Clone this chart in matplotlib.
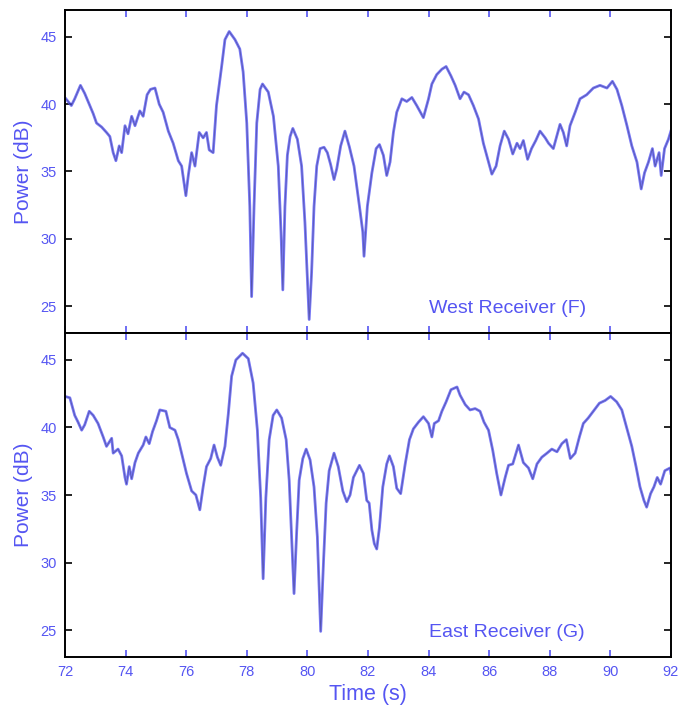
import matplotlib.pyplot as plt

plt.rcParams['font.family'] = ['Liberation Sans', 'DejaVu Sans']

# West receiver (F)
west_t = [72.03, 72.21, 72.32, 72.51, 72.65, 72.82, 72.93, 73.04, 73.21, 73.37,
          73.48, 73.59, 73.68, 73.79, 73.87, 73.98, 74.08, 74.2, 74.31, 74.47,
          74.58, 74.71, 74.82, 74.97, 75.11, 75.24, 75.41, 75.57, 75.74, 75.85,
          75.99, 76.07, 76.18, 76.29, 76.43, 76.56, 76.67, 76.76, 76.89, 77.0,
          77.17, 77.28, 77.42, 77.61, 77.77, 77.88, 78.0, 78.1, 78.16, 78.24,
          78.33, 78.44, 78.52, 78.71, 78.88, 79.04, 79.13, 79.19, 79.26, 79.34,
          79.43, 79.52, 79.67, 79.81, 79.92, 80.06, 80.14, 80.22, 80.31, 80.42,
          80.55, 80.66, 80.77, 80.88, 80.97, 81.1, 81.24, 81.39, 81.54, 81.72,
          81.83, 81.87, 81.98, 82.13, 82.27, 82.38, 82.51, 82.62, 82.73, 82.84,
          82.95, 83.12, 83.28, 83.45, 83.61, 83.83, 84.0, 84.11, 84.27, 84.44,
          84.58, 84.74, 84.88, 85.04, 85.17, 85.32, 85.48, 85.65, 85.81, 85.98,
          86.09, 86.23, 86.36, 86.5, 86.64, 86.78, 86.92, 87.02, 87.13, 87.27,
          87.4, 87.54, 87.68, 87.85, 87.96, 88.12, 88.23, 88.34, 88.45, 88.56,
          88.67, 88.84, 89.0, 89.22, 89.44, 89.66, 89.89, 90.07, 90.22, 90.38,
          90.55, 90.71, 90.88, 91.02, 91.13, 91.26, 91.39, 91.48, 91.61, 91.68,
          91.79, 91.92, 92.0]
west_db = [40.4, 39.9, 40.4, 41.4, 40.8, 39.9, 39.3, 38.6, 38.3, 37.9,
           37.6, 36.4, 35.8, 36.9, 36.4, 38.4, 37.8, 39.1, 38.4, 39.5,
           39.1, 40.7, 41.1, 41.2, 40.0, 39.4, 38.0, 37.1, 35.8, 35.4,
           33.2, 34.7, 36.4, 35.4, 37.9, 37.5, 37.9, 36.6, 36.4, 39.9,
           42.8, 44.8, 45.4, 44.8, 44.1, 42.4, 38.6, 32.4, 25.7, 32.4,
           38.6, 41.1, 41.5, 40.9, 39.1, 35.4, 30.5, 26.2, 32.4, 36.2,
           37.6, 38.2, 37.4, 35.4, 31.2, 24.0, 27.5, 32.4, 35.4, 36.7,
           36.8, 36.4, 35.5, 34.4, 35.2, 36.9, 38.0, 36.8, 35.4, 32.4,
           30.5, 28.7, 32.4, 34.9, 36.7, 37.0, 36.2, 34.7, 35.7, 37.9,
           39.4, 40.4, 40.2, 40.5, 39.9, 39.0, 40.4, 41.5, 42.2, 42.6,
           42.8, 42.1, 41.4, 40.4, 40.9, 40.7, 39.9, 38.9, 37.1, 35.7,
           34.8, 35.4, 36.9, 38.0, 37.4, 36.3, 37.1, 36.7, 37.3, 35.9,
           36.7, 37.3, 38.0, 37.5, 37.1, 36.7, 37.6, 38.5, 37.9, 36.9,
           38.4, 39.4, 40.4, 40.7, 41.2, 41.4, 41.2, 41.7, 41.1, 39.9,
           38.4, 36.9, 35.7, 33.7, 34.9, 35.7, 36.7, 35.4, 36.4, 34.7,
           36.7, 37.4, 38.0]

# East receiver (G)
east_t = [72.0, 72.16, 72.32, 72.43, 72.55, 72.65, 72.8, 72.93, 73.09, 73.26,
          73.37, 73.54, 73.59, 73.75, 73.87, 73.98, 74.03, 74.12, 74.2, 74.31,
          74.42, 74.58, 74.67, 74.78, 74.89, 75.02, 75.13, 75.33, 75.46, 75.63,
          75.74, 75.9, 76.01, 76.18, 76.32, 76.45, 76.56, 76.67, 76.81, 76.92,
          77.03, 77.14, 77.28, 77.39, 77.5, 77.64, 77.86, 78.05, 78.21, 78.35,
          78.46, 78.54, 78.63, 78.74, 78.87, 78.99, 79.15, 79.3, 79.4, 79.48,
          79.56, 79.65, 79.73, 79.85, 79.96, 80.09, 80.22, 80.33, 80.44, 80.53,
          80.62, 80.72, 80.88, 81.02, 81.17, 81.3, 81.41, 81.52, 81.72, 81.85,
          81.96, 82.04, 82.13, 82.21, 82.29, 82.38, 82.49, 82.62, 82.71, 82.84,
          82.95, 83.08, 83.23, 83.37, 83.5, 83.67, 83.83, 84.0, 84.11, 84.19,
          84.33, 84.44, 84.58, 84.74, 84.94, 85.04, 85.21, 85.37, 85.54, 85.7,
          85.83, 85.98, 86.12, 86.25, 86.39, 86.53, 86.64, 86.78, 86.97, 87.13,
          87.3, 87.44, 87.58, 87.74, 87.91, 88.07, 88.24, 88.4, 88.55, 88.68,
          88.84, 88.98, 89.11, 89.27, 89.44, 89.64, 89.83, 90.01, 90.21, 90.38,
          90.54, 90.71, 90.85, 90.98, 91.11, 91.2, 91.33, 91.44, 91.55, 91.66,
          91.8, 91.97, 92.0]
east_db = [42.3, 42.2, 40.9, 40.4, 39.8, 40.2, 41.2, 40.9, 40.3, 39.3,
           38.6, 39.2, 38.1, 38.4, 37.9, 36.3, 35.8, 37.1, 36.2, 37.4,
           38.1, 38.7, 39.3, 38.8, 39.7, 40.5, 41.3, 41.2, 40.0, 39.8,
           39.1, 37.6, 36.6, 35.3, 35.0, 33.9, 35.6, 37.1, 37.7, 38.7,
           37.8, 37.2, 38.6, 41.0, 43.8, 45.0, 45.5, 45.1, 43.3, 39.8,
           34.8, 28.8, 34.8, 39.1, 40.9, 41.3, 40.7, 39.1, 36.1, 31.9,
           27.7, 32.4, 36.1, 37.7, 38.4, 37.6, 35.6, 31.9, 24.9, 29.9,
           34.4, 36.8, 38.1, 37.1, 35.3, 34.5, 35.0, 36.3, 37.2, 36.6,
           34.6, 34.4, 32.4, 31.4, 31.0, 32.6, 35.6, 37.3, 37.9, 37.1,
           35.5, 35.1, 37.3, 39.1, 39.9, 40.4, 40.8, 40.3, 39.3, 40.3,
           40.5, 41.2, 41.9, 42.8, 43.0, 42.4, 41.7, 41.3, 41.4, 41.2,
           40.4, 39.8, 38.3, 36.6, 35.0, 36.3, 37.2, 37.3, 38.7, 37.4,
           37.0, 36.2, 37.3, 37.8, 38.1, 38.4, 38.2, 38.8, 39.1, 37.7,
           38.1, 39.3, 40.3, 40.7, 41.2, 41.8, 42.0, 42.3, 41.9, 41.3,
           40.0, 38.6, 37.1, 35.6, 34.6, 34.1, 35.1, 35.6, 36.3, 35.8,
           36.8, 37.0, 36.6]

panels = [("West Receiver (F)", west_t, west_db),
          ("East Receiver (G)", east_t, east_db)]
xticks = [72, 74, 76, 78, 80, 82, 84, 86, 88, 90, 92]
yticks = [25, 30, 35, 40, 45]

blue = '#5555f2'

fig = plt.figure(figsize=(6.8, 7.13), dpi=100)
ax_top = fig.add_axes([0.0956, 0.533, 0.891, 0.453])
ax_bot = fig.add_axes([0.0956, 0.0785, 0.891, 0.4545], sharex=ax_top)

for ax, (name, t, db) in zip([ax_top, ax_bot], panels):
    ax.plot(t, db, color=blue, lw=2.0, alpha=0.8, solid_joinstyle='round')
    ax.plot(t, db, color='black', lw=0.5, alpha=0.3)
    ax.set_xlim(72, 92)
    ax.set_ylim(23, 47)
    ax.set_xticks(xticks)
    ax.set_yticks(yticks)
    ax.tick_params(axis='both', direction='in', top=True, right=True,
                   length=5, width=1.2, labelsize=10.5, labelcolor=blue, pad=6)
    ax.tick_params(axis='x', color=blue)
    for s in ax.spines.values():
        s.set_linewidth(1.4)
    ax.set_ylabel('Power (dB)', color=blue, fontsize=15, labelpad=5)
    ax.text(84.0, 24.8, name, color=blue, fontsize=14, ha='left', va='center')

ax_top.tick_params(axis='x', labelbottom=False)
ax_bot.set_xlabel('Time (s)', color=blue, fontsize=15.5, labelpad=3)

plt.savefig('out.png', dpi=100)
plt.close()
